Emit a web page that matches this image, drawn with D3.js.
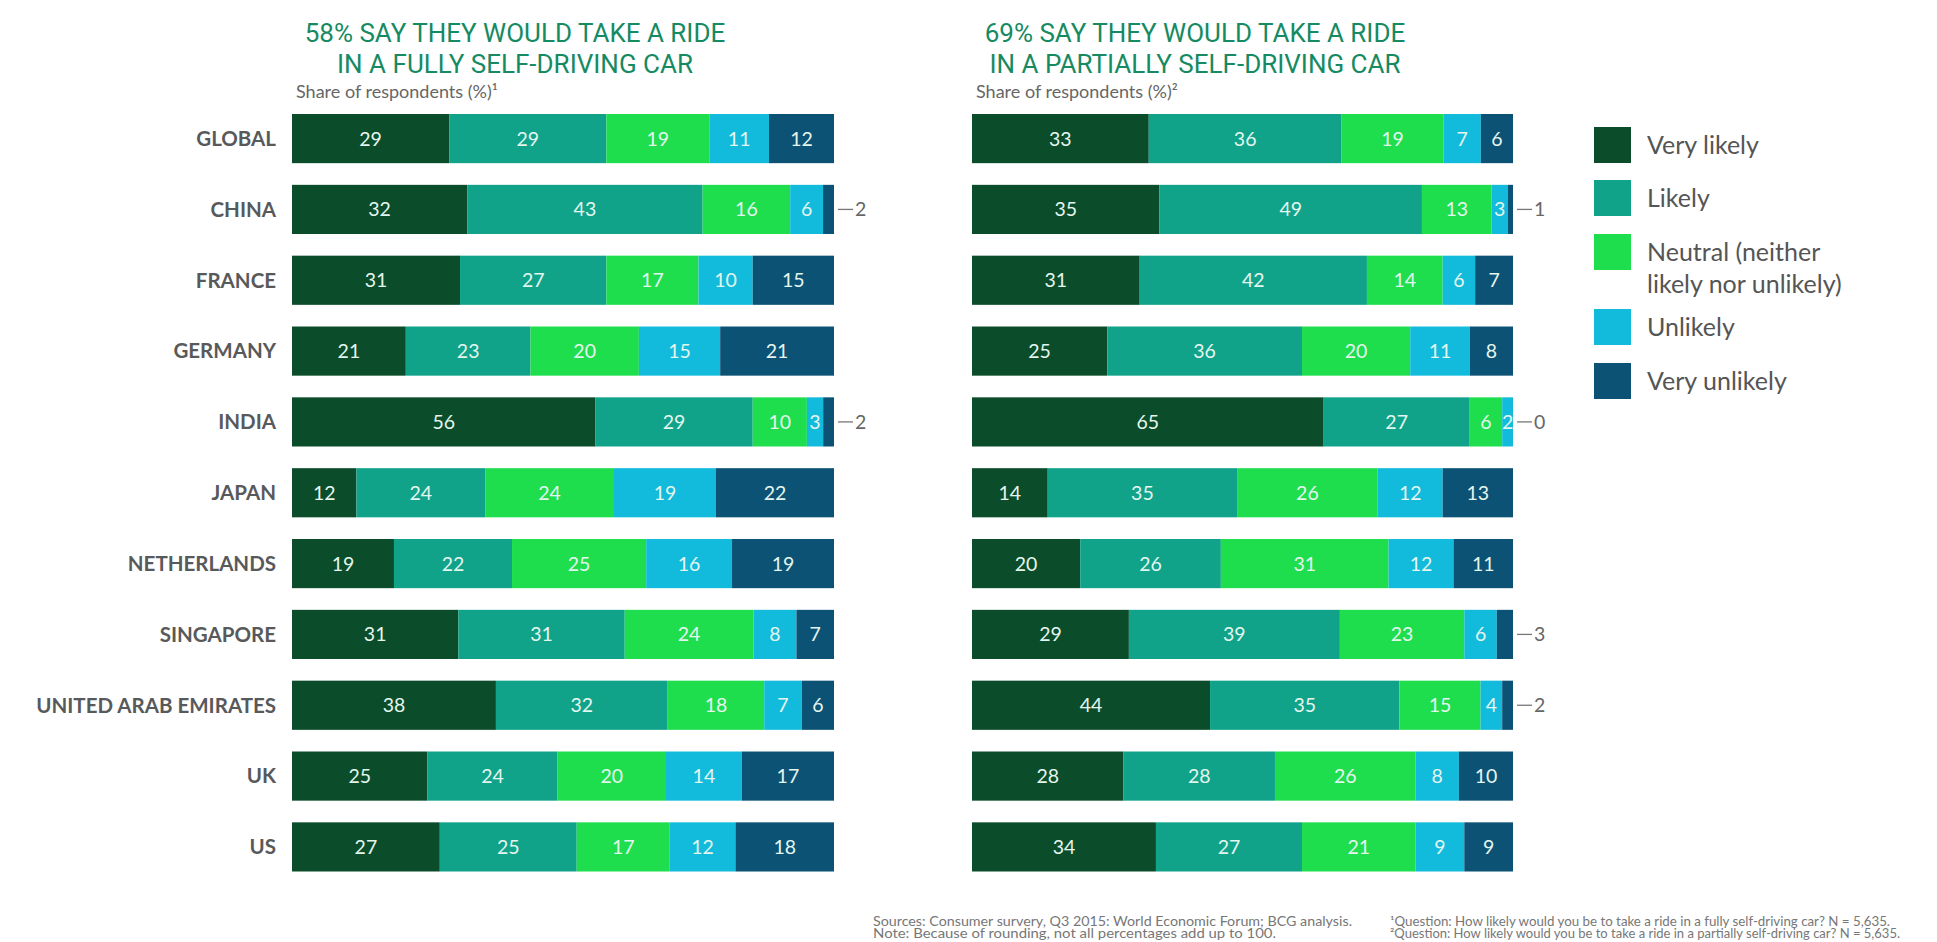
<!DOCTYPE html>
<html>
<head>
<meta charset="utf-8">
<script src="https://cdn.jsdelivr.net/npm/d3@7"></script>
<style>
  body { margin: 0; background: #fff; }
  svg { display: block; font-family: Lato, "Open Sans", sans-serif; }
</style>
</head>
<body>
<div id="viz"></div>
<script>
/***************** Data *********************/
var countries = ["GLOBAL", "CHINA", "FRANCE", "GERMANY", "INDIA", "JAPAN",
  "NETHERLANDS", "SINGAPORE", "UNITED ARAB EMIRATES", "UK", "US"];
var answers = ["Very likely", "Likely", "Neutral (neither likely nor unlikely)", "Unlikely", "Very unlikely"];
var legendLines = [["Very likely"], ["Likely"], ["Neutral (neither", "likely nor unlikely)"], ["Unlikely"], ["Very unlikely"]];

// rows follow countries, columns follow answers
var fullyValues = [
  [29, 29, 19, 11, 12],
  [32, 43, 16, 6, 2],
  [31, 27, 17, 10, 15],
  [21, 23, 20, 15, 21],
  [56, 29, 10, 3, 2],
  [12, 24, 24, 19, 22],
  [19, 22, 25, 16, 19],
  [31, 31, 24, 8, 7],
  [38, 32, 18, 7, 6],
  [25, 24, 20, 14, 17],
  [27, 25, 17, 12, 18]
];
var partiallyValues = [
  [33, 36, 19, 7, 6],
  [35, 49, 13, 3, 1],
  [31, 42, 14, 6, 7],
  [25, 36, 20, 11, 8],
  [65, 27, 6, 2, 0],
  [14, 35, 26, 12, 13],
  [20, 26, 31, 12, 11],
  [29, 39, 23, 6, 3],
  [44, 35, 15, 4, 2],
  [28, 28, 26, 8, 10],
  [34, 27, 21, 9, 9]
];
var titles = [
  ["58% SAY THEY WOULD TAKE A RIDE", "IN A FULLY SELF-DRIVING CAR"],
  ["69% SAY THEY WOULD TAKE A RIDE", "IN A PARTIALLY SELF-DRIVING CAR"]
];
var subtitles = ["Share of respondents (%)\u00b9", "Share of respondents (%)\u00b2"];
var sources = [
  "Sources: Consumer survery, Q3 2015: World Economic Forum; BCG analysis.",
  "Note: Because of rounding, not all percentages add up to 100."
];
var questions = [
  "\u00b9Question: How likely would you be to take a ride in a fully self-driving car? N = 5,635.",
  "\u00b2Question: How likely would you be to take a ride in a partially self-driving car? N = 5,635."
];

/***************** Layout *********************/
var w = 1937, h = 942,
    colors = ["#0b4d2b", "#10a38a", "#1fde4e", "#12bbdc", "#0c5275"],
    label_color = "#e4f6ee",
    text_color = "#58595b",
    title_color = "#168a62";

var panels = [
  {values: fullyValues, x0: 292, x1: 834},
  {values: partiallyValues, x0: 972, x1: 1513}
];

var svg = d3.select("#viz")
  .append("svg")
  .attr("width", w)
  .attr("height", h);

var y = d3.scaleBand().domain(countries).range([114, 871.5]).paddingInner(0.306);

/* Country labels */
svg.append("g").selectAll("text")
  .data(countries)
  .join("text")
  .attr("x", 276)
  .attr("y", function(d) { return y(d) + y.bandwidth() / 2; })
  .attr("dy", "0.36em")
  .attr("text-anchor", "end")
  .style("font-weight", 700)
  .style("font-size", "20.5px")
  .style("fill", text_color)
  .text(function(d) { return d; });

var stack = d3.stack()
  .keys(d3.range(answers.length))
  .offset(d3.stackOffsetExpand);

panels.forEach(function(p, pi) {
  var x = d3.scaleLinear().domain([0, 1]).range([p.x0, p.x1]);
  var g = svg.append("g");

  /* Title */
  g.append("text")
    .attr("text-anchor", "middle")
    .style("font-family", "Roboto, sans-serif")
    .style("font-size", "26px")
    .style("fill", title_color)
    .selectAll("tspan")
    .data(titles[pi])
    .join("tspan")
    .attr("x", p.x0 + 223)
    .attr("y", function(d, i) { return 42 + i * 31; })
    .text(function(d) { return d; });

  g.append("text")
    .attr("x", p.x0 + 4)
    .attr("y", 98)
    .style("font-size", "18px")
    .style("fill", "#666")
    .text(subtitles[pi]);

  var series = stack(p.values);

  var layers = g.selectAll("g.layer")
    .data(series)
    .join("g")
    .attr("class", "layer")
    .attr("fill", function(d, i) { return colors[i]; });

  layers.selectAll("rect")
    .data(function(d) { return d; })
    .join("rect")
    .attr("x", function(d) { return x(d[0]); })
    .attr("width", function(d) { return x(d[1]) - x(d[0]); })
    .attr("y", function(d, i) { return y(countries[i]); })
    .attr("height", y.bandwidth());

  /* Values inside segments, tiny last segment gets an outside label */
  series.forEach(function(s, k) {
    s.forEach(function(d, i) {
      var v = p.values[i][k];
      var cy = y(countries[i]) + y.bandwidth() / 2;
      if (k === answers.length - 1 && v < 4) {
        g.append("line")
          .attr("x1", x(1) + 4)
          .attr("x2", x(1) + 19)
          .attr("y1", cy)
          .attr("y2", cy)
          .attr("stroke", "#777")
          .attr("stroke-width", 1.3);
        g.append("text")
          .attr("x", x(1) + 21)
          .attr("y", cy)
          .attr("dy", "0.36em")
          .style("font-size", "19.5px")
          .style("fill", "#666")
          .text(v);
      } else {
        g.append("text")
          .attr("x", (x(d[0]) + x(d[1])) / 2)
          .attr("y", cy)
          .attr("dy", "0.36em")
          .attr("text-anchor", "middle")
          .style("font-size", "19.5px")
          .style("fill", label_color)
          .text(v);
      }
    });
  });
});

/***************** Legend *********************/
var legend = svg.append("g").attr("transform", "translate(1594,127)");
var legendY = [0, 53, 107, 182, 236];

var items = legend.selectAll("g")
  .data(answers)
  .join("g")
  .attr("transform", function(d, i) { return "translate(0," + legendY[i] + ")"; });

items.append("rect")
  .attr("width", 37)
  .attr("height", 36)
  .attr("fill", function(d, i) { return colors[i]; });

items.append("text")
  .style("font-size", "25px")
  .style("fill", "#555")
  .selectAll("tspan")
  .data(function(d, i) { return legendLines[i]; })
  .join("tspan")
  .attr("x", 53)
  .attr("y", function(d, i) { return 27 + i * 32; })
  .text(function(d) { return d; });

/***************** Footnotes *********************/
svg.append("g").selectAll("text")
  .data(sources)
  .join("text")
  .attr("x", 873)
  .attr("y", function(d, i) { return 926 + i * 12; })
  .attr("textLength", function(d, i) { return i === 0 ? 479 : 403; })
  .attr("lengthAdjust", "spacingAndGlyphs")
  .style("font-size", "12.5px")
  .style("fill", "#777")
  .text(function(d) { return d; });

svg.append("g").selectAll("text")
  .data(questions)
  .join("text")
  .attr("x", 1390)
  .attr("y", function(d, i) { return 926 + i * 12; })
  .attr("textLength", function(d, i) { return i === 0 ? 500 : 510; })
  .attr("lengthAdjust", "spacingAndGlyphs")
  .style("font-size", "12.5px")
  .style("fill", "#777")
  .text(function(d) { return d; });
</script>
</body>
</html>
